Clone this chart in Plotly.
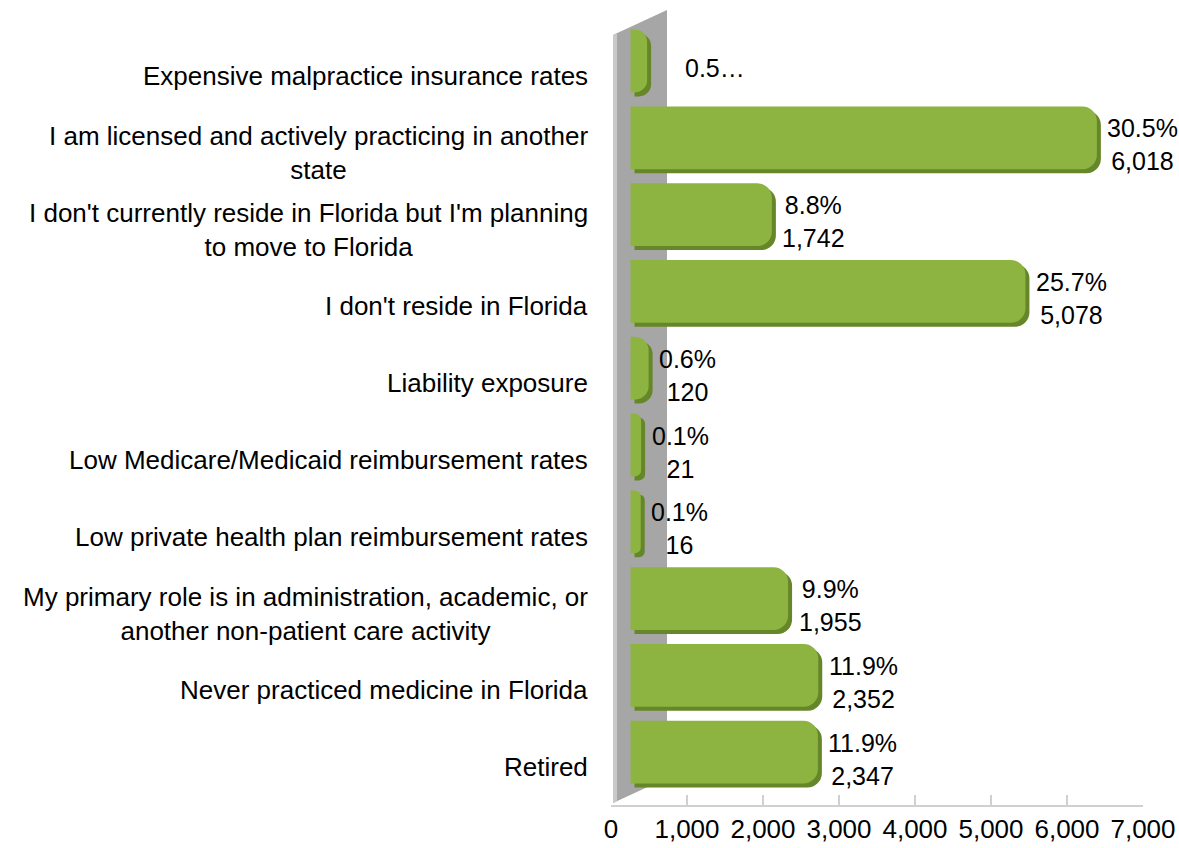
import plotly.graph_objects as go

# Survey responses: reasons for not practicing in Florida
categories = [
    "Expensive malpractice insurance rates",
    "I am licensed and actively practicing in another state",
    "I don't currently reside in Florida but I'm planning to move to Florida",
    "I don't reside in Florida",
    "Liability exposure",
    "Low Medicare/Medicaid reimbursement rates",
    "Low private health plan reimbursement rates",
    "My primary role is in administration, academic, or another non-patient care activity",
    "Never practiced medicine in Florida",
    "Retired",
]
category_labels = [
    "Expensive malpractice insurance rates",
    "I am licensed and actively practicing in another<br>state",
    "I don't currently reside in Florida but I'm planning<br>to move to Florida",
    "I don't reside in Florida",
    "Liability exposure",
    "Low Medicare/Medicaid reimbursement rates",
    "Low private health plan reimbursement rates",
    "My primary role is in administration, academic, or<br>another non-patient care activity",
    "Never practiced medicine in Florida",
    "Retired",
]
counts = [100, 6018, 1742, 5078, 120, 21, 16, 1955, 2352, 2347]
percents = [0.5, 30.5, 8.8, 25.7, 0.6, 0.1, 0.1, 9.9, 11.9, 11.9]
truncated = [True, False, False, False, False, False, False, False, False, False]

tick_values = [0, 1000, 2000, 3000, 4000, 5000, 6000, 7000]

# ---- layout geometry (pixels) ----
W, H = 1179, 848
ML, MR, MT, MB = 611, 36, 0, 43
PW = W - ML - MR           # plot width in px
PH = H - MT - MB           # plot height in px
XMAX = 7000
U = PW / XMAX              # px per unit

FONT = "Liberation Sans, Arial, sans-serif"
FRONT = "#8db440"
SIDE = "#66862a"
WALL = "#a6a6a6"
WALL_EDGE = "#c9c9c9"

# bars sit in front of the back wall: shifted depth axes
front_shift = 24 / U
side_shift = 28 / U

# category index -> vertical position (top bar centre ~61px, step ~76.8px)
top_c, step = 61, 76.8
y_top = (0 - top_c) / step
y_bot = (PH - top_c) / step

bar_w = 0.70
depth_dy = 4 / step
edge_w = 9

fig = go.Figure()

# anchor trace so the visible x axis (ticks, line) is drawn
fig.add_trace(go.Scatter(x=[], y=[], xaxis="x", yaxis="y",
                         showlegend=False, hoverinfo="skip"))

# dark side / end cap of each bar
fig.add_trace(go.Bar(
    y=categories, x=counts, orientation="h", xaxis="x2",
    width=bar_w, offset=-bar_w / 2 + depth_dy,
    marker=dict(color=SIDE, line=dict(color=SIDE, width=edge_w), cornerradius=10),
    hoverinfo="skip", showlegend=False,
))
# light front face
fig.add_trace(go.Bar(
    y=categories, x=counts, orientation="h", xaxis="x3",
    width=bar_w, offset=-bar_w / 2,
    marker=dict(color=FRONT, line=dict(color=FRONT, width=edge_w), cornerradius=10),
    hovertemplate="%{y}: %{x:,}<extra></extra>", showlegend=False,
))

annotations = []
for cat, lab in zip(categories, category_labels):
    annotations.append(dict(
        x=(590 - ML) / PW, xref="paper", xanchor="right",
        y=cat, yref="y", yanchor="middle", yshift=-15,
        text=lab, showarrow=False, align="center",
        font=dict(family=FONT, size=26, color="#000000"),
    ))
for cat, n, p, tr in zip(categories, counts, percents, truncated):
    if tr:
        txt, xs = f"{p:.1f}…", 36
    else:
        txt, xs = f"{p:.1f}%<br>{n:,}", 9
    annotations.append(dict(
        x=n, xref="x2", xanchor="left", xshift=xs,
        y=cat, yref="y", yanchor="middle", yshift=-7,
        text=txt, showarrow=False, align="center",
        font=dict(family=FONT, size=25, color="#000000"),
    ))

def px(x):
    return (x - ML) / PW

def py(y):
    return (PH - y) / PH

# back wall drawn as a slanted panel
wall = (f"M {px(613)},{py(35)} L {px(667)},{py(10)} L {px(667)},{py(778)} "
        f"L {px(613)},{py(803)} Z")
edge = (f"M {px(613)},{py(35)} L {px(617)},{py(33)} L {px(617)},{py(801)} "
        f"L {px(613)},{py(803)} Z")
shapes = [
    dict(type="path", path=wall, xref="paper", yref="paper",
         fillcolor=WALL, line=dict(width=0), layer="below"),
    dict(type="path", path=edge, xref="paper", yref="paper",
         fillcolor=WALL_EDGE, line=dict(width=0), layer="below"),
]

fig.update_layout(
    width=W, height=H,
    margin=dict(l=ML, r=MR, t=MT, b=MB),
    paper_bgcolor="white", plot_bgcolor="rgba(0,0,0,0)",
    barmode="overlay",
    font=dict(family=FONT, size=26, color="#000000"),
    xaxis=dict(
        range=[0, XMAX], tickvals=tick_values, tickformat=",",
        ticks="inside", ticklen=10, tickwidth=2, tickcolor="#d0d0d0",
        showline=True, linecolor="#d0d0d0", linewidth=2,
        showgrid=False, zeroline=False,
        tickfont=dict(family=FONT, size=26, color="#000000"),
    ),
    xaxis2=dict(overlaying="x", range=[-side_shift, XMAX - side_shift],
                visible=False),
    xaxis3=dict(overlaying="x", range=[-front_shift, XMAX - front_shift],
                visible=False),
    yaxis=dict(
        type="category", categoryorder="array", categoryarray=categories,
        range=[y_bot, y_top], showticklabels=False, showgrid=False,
        zeroline=False, showline=False, ticks="",
    ),
    annotations=annotations,
    shapes=shapes,
)

fig.write_html("out.html")
